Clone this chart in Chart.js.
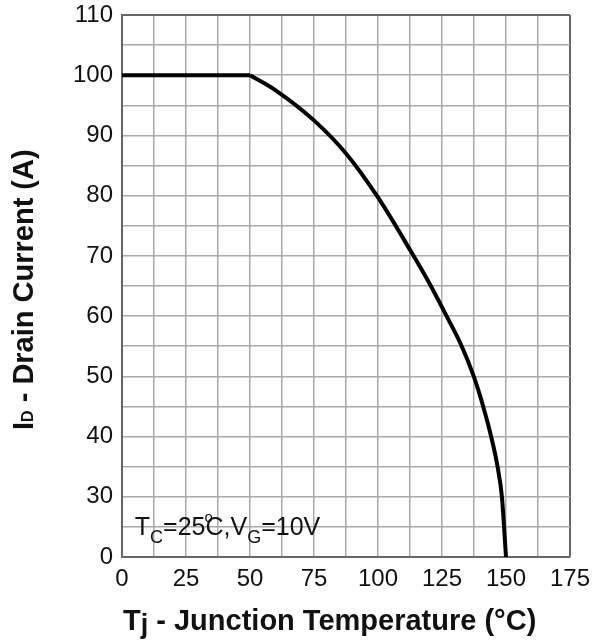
<!DOCTYPE html>
<html><head><meta charset="utf-8">
<script src="https://cdn.jsdelivr.net/npm/chart.js@4/dist/chart.umd.min.js"></script>
<style>html,body{margin:0;padding:0;background:#fff}canvas{display:block}</style>
</head><body>
<canvas id="c" width="610" height="640"></canvas>
<script>
// Junction temperature (°C) and drain current (A)
const temperature  = [0, 50, 60, 75, 87.5, 100, 112.5, 120, 126.8, 132.7, 137.4, 141.1, 144.2, 146.7, 148.4, 150];
const drainCurrent = [100, 100, 97.5, 92.5, 87, 79.7, 71, 65.5, 60, 55, 50, 45, 40, 35, 30, 0];

// x axis tick labels
const xTickValues = [0, 25, 50, 75, 100, 125, 150, 175];
const xTickLabels = ['0', '25', '50', '75', '100', '125', '150', '175'];
// y axis is broken: the bottom gridline reads 0, the next 30
const yTickValues = [20, 30, 40, 50, 60, 70, 80, 90, 100, 110];
const yTickLabels = ['0', '30', '40', '50', '60', '70', '80', '90', '100', '110'];

// map a current value onto the broken y axis (0..30 squeezed into the lowest cell)
function toAxis(v) { return v >= 30 ? v : 20 + v * (10 / 30); }

const FONT = "'Liberation Sans', Arial, Helvetica, sans-serif";

function drawRun(ctx, parts, x, y) {
  for (const p of parts) {
    ctx.font = (p.bold ? 'bold ' : '') + p.size + 'px ' + FONT;
    if (p.noAdvance) { ctx.fillText(p.t, x + (p.dx || 0), y + (p.dy || 0)); continue; }
    ctx.fillText(p.t, x, y + (p.dy || 0));
    x += ctx.measureText(p.t).width;
  }
  return x;
}

const textPlugin = {
  id: 'texts',
  afterDraw(chart) {
    const { ctx, scales: { x, y } } = chart;
    ctx.save();
    ctx.fillStyle = '#111';
    ctx.textBaseline = 'alphabetic';
    ctx.textAlign = 'left';
    // condition annotation
    drawRun(ctx, [
      { t: 'T', size: 25 },
      { t: 'C', size: 18, dy: 8 },
      { t: '=25', size: 25 },
      { t: 'o', size: 15, dy: -13, dx: -1, noAdvance: true },
      { t: 'C,V', size: 25 },
      { t: 'G', size: 18, dy: 8 },
      { t: '=10V', size: 25 }
    ], x.getPixelForValue(5), y.getPixelForValue(23.6));
    // x axis title
    drawRun(ctx, [
      { t: 'T', size: 29, bold: true },
      { t: 'j', size: 27, bold: true, dy: 3 },
      { t: ' - Junction Temperature (°C)', size: 29, bold: true }
    ], 123, 630);
    // y axis title
    ctx.translate(33, 430);
    ctx.rotate(-Math.PI / 2);
    drawRun(ctx, [
      { t: 'I', size: 29, bold: true },
      { t: 'D', size: 16, bold: true },
      { t: ' - Drain Current (A)', size: 29, bold: true }
    ], 0, 0);
    ctx.restore();
  }
};

const gridColor = '#a9a9a9';
const edgeColor = '#666666';
const points = temperature.map((t, i) => ({ x: t, y: toAxis(drainCurrent[i]) }));
const curveStyle = { borderColor: '#000', borderWidth: 4, pointRadius: 0, fill: false };

new Chart(document.getElementById('c'), {
  type: 'line',
  data: {
    datasets: [
      Object.assign({ data: points.slice(0, 2), tension: 0 }, curveStyle),
      Object.assign({ data: points.slice(1), cubicInterpolationMode: 'monotone' }, curveStyle)
    ]
  },
  options: {
    responsive: false,
    animation: false,
    layout: { padding: { top: 15, right: 40, left: 0, bottom: 0 } },
    plugins: { legend: { display: false }, tooltip: { enabled: false } },
    scales: {
      x: {
        type: 'linear', min: 0, max: 175,
        ticks: {
          stepSize: 12.5, autoSkip: false, maxRotation: 0, padding: 8,
          color: '#111', font: { family: FONT, size: 24 },
          callback: v => { const i = xTickValues.indexOf(v); return i >= 0 ? xTickLabels[i] : ''; }
        },
        grid: {
          drawTicks: false,
          color: c => (c.tick && c.tick.value === 175) ? edgeColor : gridColor,
          lineWidth: c => (c.tick && c.tick.value === 175) ? 2 : 1.5
        },
        border: { display: true, color: edgeColor, width: 2 },
        afterFit: s => { s.height = 83; }
      },
      y: {
        type: 'linear', min: 20, max: 110,
        ticks: {
          stepSize: 5, autoSkip: false, padding: 9,
          color: '#111', font: { family: FONT, size: 24 },
          callback: v => { const i = yTickValues.indexOf(v); return i >= 0 ? yTickLabels[i] : ''; }
        },
        grid: {
          drawTicks: false,
          color: c => (c.tick && c.tick.value === 110) ? edgeColor : gridColor,
          lineWidth: c => (c.tick && c.tick.value === 110) ? 2 : 1.5
        },
        border: { display: true, color: edgeColor, width: 2 },
        afterFit: s => { s.width = 122; s.paddingTop = 0; s.paddingBottom = 0; }
      }
    }
  },
  plugins: [textPlugin]
});
</script>
</body></html>
